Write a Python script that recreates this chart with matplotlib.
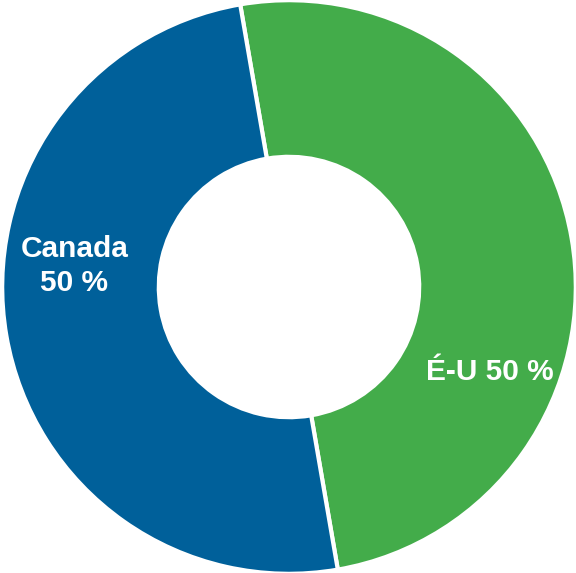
import matplotlib
matplotlib.use("Agg")
import matplotlib.pyplot as plt

labels = ["É-U 50 %", "Canada\n50 %"]
values = [50, 50]
colors = ["#43AC4A", "#00609A"]

W, H = 576, 573
fig = plt.figure(figsize=(W / 100, H / 100), dpi=100)
cx, cy, R = 289, 286, 286.8
ax = fig.add_axes([(cx - R) / W, (cy - R) / H, 2 * R / W, 2 * R / H])
ax.pie(values, colors=colors, startangle=99.8, counterclock=False, radius=1,
       wedgeprops=dict(width=0.546, edgecolor="white", linewidth=3))
ax.set_xlim(-1, 1)
ax.set_ylim(-1, 1)
ax.set_aspect("equal")
ax.axis("off")

pos = [(0.70, -0.297), (-0.748, 0.074)]
for lab, (x, y) in zip(labels, pos):
    ax.text(x, y, lab, ha="center", va="center", color="white",
            fontsize=21.5, fontweight="bold", family="Liberation Sans",
            linespacing=1.25)

fig.savefig("out.png", dpi=100)
